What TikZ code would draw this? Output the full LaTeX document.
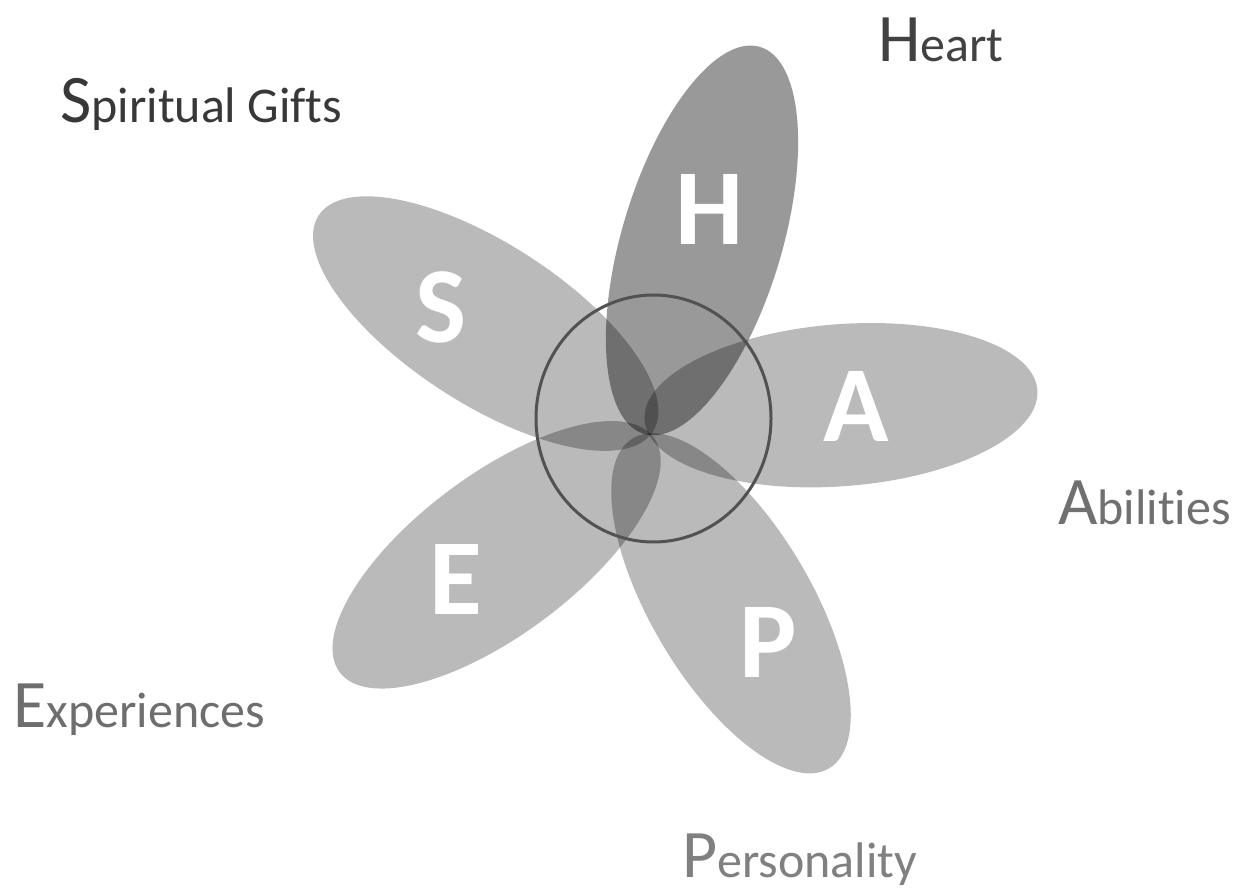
\documentclass[tikz,border=0pt]{standalone}
\usepackage{fontspec}
\usetikzlibrary{shapes.geometric}
\setmainfont{Carlito}[RawFeature={-liga;-clig;-dlig}]
\begin{document}
\begin{tikzpicture}[x=1pt,y=1pt,
  petal/.style={fill=black,fill opacity=0.27},
  darkpetal/.style={fill=black,fill opacity=0.40},
  letter/.style={text=white,font=\bfseries\fontsize{108}{110}\selectfont,anchor=base,inner sep=0},
  label/.style={anchor=base west,inner sep=0,font=\fontsize{50}{60}\selectfont},
  ring/.style={draw=black!68,line width=3pt}]
\useasboundingbox (0,0) rectangle (1242,892);
\fill[white] (0,0) rectangle (1242,892);
% petals
\fill[darkpetal, rotate around={73.3:(702,651.6)}] (702,651.6) ellipse [x radius=202, y radius=80];
\fill[petal, rotate around={4.4:(841,486.8)}] (841,486.8) ellipse [x radius=197, y radius=81];
\fill[petal, rotate around={147.1:(485.7,568.4)}] (485.7,568.4) ellipse [x radius=199, y radius=80];
\fill[petal, rotate around={216.8:(496.6,337.2)}] (496.6,337.2) ellipse [x radius=196, y radius=80];
\fill[petal, rotate around={-59.3:(731,288.7)}] (731,288.7) ellipse [x radius=192, y radius=80];
% ring
\node[ring, ellipse, minimum width=235pt, minimum height=247pt, inner sep=0] (ring) at (653.5,473.5) {};
% letters
\node[letter] (lS) at (441,549) {S};
\node[letter] (lH) at (710,647) {H};
\node[letter] (lA) at (856,450) {A};
\node[letter] (lP) at (768,214) {P};
\node[letter] (lE) at (456,277) {E};
% labels
\node[label, text=black!78] (tS) at (60,769) {{\fontsize{68}{70}\selectfont S}piritual Gifts};
\node[label, text=black!74] (tH) at (878,830) {{\fontsize{68}{70}\selectfont H}eart};
\node[label, text=black!56] (tA) at (1058,367) {{\fontsize{68}{70}\selectfont A}bilit\kern0pt ies};
\node[label, text=black!57] (tE) at (13,165) {{\fontsize{68}{70}\selectfont E}xperiences};
\node[label, text=black!50] (tP) at (682,15) {{\fontsize{68}{70}\selectfont P}ersonality};
\end{tikzpicture}
\end{document}
